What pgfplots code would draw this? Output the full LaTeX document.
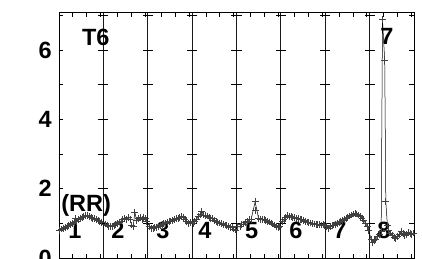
\documentclass[border=0pt]{standalone}
\usepackage{pgfplots}
\pgfplotsset{compat=1.18}
\usepackage{fontspec}
\setmainfont{Liberation Sans}
\begin{document}
\begin{tikzpicture}
\begin{axis}[
  at={(0,0)}, anchor=south west,
  width=355pt, height=246pt, scale only axis,
  xmin=0, xmax=8, ymin=0, ymax=7.1,
  axis line style={black, line width=0.8pt},
  xtick={1,2,3,4,5,6,7},
  xticklabels={},
  major x tick style={draw=none},
  xmajorgrids,
  grid style={black!90, line width=0.9pt},
  minor xtick={0.3125,0.625,0.9375,1.3125,1.625,1.9375,2.3125,2.625,2.9375,3.3125,3.625,3.9375,4.3125,4.625,4.9375,5.3125,5.625,5.9375,6.3125,6.625,6.9375,7.3125,7.625,7.9375},
  ytick={0,2,4,6},
  minor ytick={1,3,5,7},
  xtick pos=both, ytick pos=both,
  tick align=inside,
  major tick length=4.5pt, minor tick length=4.5pt,
  tick style={black, line width=0.8pt},
  /pgf/number format/assume math mode=true,
  yticklabel style={font=\fontsize{23.5}{23.5}\selectfont\bfseries, inner sep=3pt, xshift=-4pt},
  clip=false,
]
% cross marks on the panel separators
\addplot[only marks, mark=-, mark size=5pt, mark options={black, line width=0.8pt}] coordinates {
(1,1)(1,2)(1,3)(1,4)(1,5)(1,6)(1,7)
(2,1)(2,2)(2,3)(2,4)(2,5)(2,6)(2,7)
(3,1)(3,2)(3,3)(3,4)(3,5)(3,6)(3,7)
(4,1)(4,2)(4,3)(4,4)(4,5)(4,6)(4,7)
(5,1)(5,2)(5,3)(5,4)(5,5)(5,6)(5,7)
(6,1)(6,2)(6,3)(6,4)(6,5)(6,6)(6,7)
(7,1)(7,2)(7,3)(7,4)(7,5)(7,6)(7,7)
};
% RR series
\addplot[black, line width=0.5pt, mark=+, mark size=3.4pt, mark options={black!75, line width=0.8pt}] coordinates {
(0.02,0.80)(0.06,0.84)(0.10,0.86)(0.14,0.88)(0.18,0.91)(0.22,0.94)(0.26,0.96)(0.30,1.00)(0.34,1.03)(0.37,1.13)(0.40,1.06)(0.44,1.10)(0.48,1.14)(0.52,1.17)(0.56,1.20)(0.60,1.23)(0.64,1.22)(0.68,1.19)(0.72,1.16)(0.76,1.14)(0.80,1.13)(0.84,1.10)(0.88,1.08)(0.92,1.06)(0.96,1.02)
(1.04,0.98)(1.08,0.95)(1.12,0.91)(1.16,0.90)(1.20,0.92)(1.24,0.94)(1.28,0.96)(1.32,1.00)(1.36,1.04)(1.40,1.07)(1.44,1.10)(1.48,1.14)(1.52,1.12)(1.56,1.16)(1.60,1.10)(1.64,0.95)(1.67,0.90)(1.71,1.32)(1.75,1.08)(1.79,1.14)(1.83,1.16)(1.87,1.12)(1.91,1.16)(1.95,1.13)(1.98,1.06)
(2.04,0.92)(2.08,0.86)(2.12,0.85)(2.16,0.88)(2.20,0.89)(2.24,0.91)(2.28,0.93)(2.32,0.96)(2.36,0.99)(2.40,1.00)(2.44,1.03)(2.48,1.05)(2.52,1.07)(2.56,1.09)(2.60,1.11)(2.64,1.13)(2.68,1.15)(2.72,1.17)(2.76,1.19)(2.80,1.16)(2.84,1.12)(2.88,1.05)(2.92,1.00)(2.96,1.02)
(3.02,1.00)(3.06,1.05)(3.10,1.12)(3.14,1.20)(3.18,1.26)(3.22,1.34)(3.26,1.24)(3.30,1.22)(3.34,1.21)(3.38,1.18)(3.42,1.15)(3.46,1.13)(3.50,1.08)(3.54,1.05)(3.58,1.03)(3.62,1.01)(3.66,0.99)(3.70,0.97)(3.74,0.95)(3.78,0.93)(3.82,0.91)(3.86,0.89)(3.90,0.87)(3.94,0.84)(3.97,0.81)
(4.03,0.90)(4.08,0.90)(4.12,0.96)(4.16,0.98)(4.20,1.02)(4.24,1.06)(4.28,1.10)(4.33,1.12)(4.42,1.62)(4.50,1.13)(4.54,1.11)(4.58,1.10)(4.62,1.10)(4.66,1.08)(4.70,1.06)(4.74,1.04)(4.78,1.01)(4.82,0.98)(4.86,0.95)(4.90,0.91)(4.94,0.87)(4.97,0.92)
(5.03,1.05)(5.07,1.12)(5.11,1.18)(5.15,1.22)(5.19,1.20)(5.23,1.19)(5.27,1.17)(5.31,1.16)(5.35,1.14)(5.39,1.13)(5.43,1.11)(5.47,1.10)(5.51,1.08)(5.55,1.06)(5.59,1.04)(5.63,1.03)(5.67,1.01)(5.71,0.99)(5.75,0.98)(5.79,0.97)(5.83,0.97)(5.87,0.96)(5.91,0.95)(5.95,0.96)(5.98,0.93)
(6.03,0.90)(6.07,0.86)(6.11,0.90)(6.15,0.93)(6.19,0.95)(6.23,0.97)(6.27,1.00)(6.31,1.02)(6.35,1.05)(6.39,1.08)(6.43,1.11)(6.47,1.15)(6.51,1.18)(6.55,1.21)(6.59,1.24)(6.63,1.27)(6.67,1.29)(6.71,1.27)(6.75,1.24)(6.79,1.20)(6.83,1.14)(6.87,1.08)(6.91,1.00)(6.95,0.90)(6.98,0.80)
(7.03,0.55)(7.06,0.45)(7.10,0.50)(7.14,0.55)(7.18,0.62)(7.22,0.68)(7.26,0.76)(7.29,6.88)(7.34,5.71)(7.365,1.62)(7.40,0.95)(7.43,0.80)(7.47,0.72)(7.51,0.64)(7.55,0.60)(7.59,0.57)(7.63,0.62)(7.67,0.68)(7.71,0.76)(7.75,0.70)(7.79,0.66)(7.83,0.68)(7.87,0.73)(7.91,0.70)(7.95,0.68)(7.98,0.72)
};
\addplot[only marks, mark=+, mark size=3.4pt, mark options={black!75, line width=0.8pt}] coordinates {(4.42,1.38)};
% annotations
\node[font=\fontsize{23.5}{23.5}\selectfont\bfseries] at (axis cs:0.83,6.37) {T6};
\node[font=\fontsize{23.5}{23.5}\selectfont\bfseries] at (axis cs:7.39,6.40) {7};
\node[font=\fontsize{23.5}{23.5}\selectfont\bfseries] at (axis cs:0.61,1.53) {(RR)};
\node[font=\fontsize{23.5}{23.5}\selectfont\bfseries] at (axis cs:0.36,0.79) {1};
\node[font=\fontsize{23.5}{23.5}\selectfont\bfseries] at (axis cs:1.33,0.79) {2};
\node[font=\fontsize{23.5}{23.5}\selectfont\bfseries] at (axis cs:2.34,0.79) {3};
\node[font=\fontsize{23.5}{23.5}\selectfont\bfseries] at (axis cs:3.29,0.79) {4};
\node[font=\fontsize{23.5}{23.5}\selectfont\bfseries] at (axis cs:4.34,0.79) {5};
\node[font=\fontsize{23.5}{23.5}\selectfont\bfseries] at (axis cs:5.34,0.79) {6};
\node[font=\fontsize{23.5}{23.5}\selectfont\bfseries] at (axis cs:6.33,0.79) {7};
\node[font=\fontsize{23.5}{23.5}\selectfont\bfseries] at (axis cs:7.32,0.79) {8};
\end{axis}
\pgfresetboundingbox
\path[use as bounding box] (-59pt,0pt) rectangle (363pt,258pt);
\end{tikzpicture}
\end{document}
